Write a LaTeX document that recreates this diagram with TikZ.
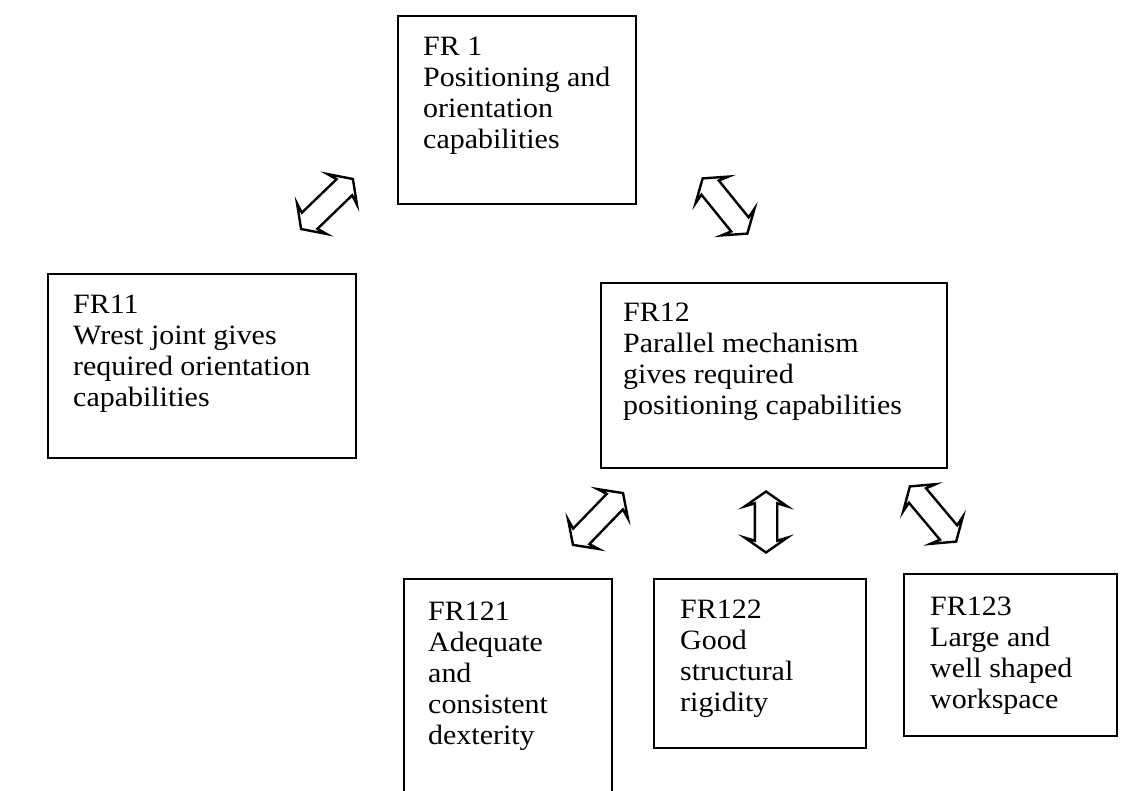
\documentclass[tikz,border=0pt]{standalone}
\usepackage{fontspec}
\setmainfont{Liberation Serif}[FakeStretch=1.07]
\usetikzlibrary{shapes.arrows, positioning}

\begin{document}
\begin{tikzpicture}[
        x=1pt,
        y=1pt,
        block/.style={
            rectangle,
            draw,
            line width=2pt,
            anchor=north west,
            inner sep=0pt
        },
        txt/.style={
            align=left,
            inner sep=0pt,
            font=\fontsize{28}{31}\selectfont
        },
        dbl/.style={
            double arrow,
            draw,
            line width=2.4pt,
            inner xsep=0pt,
            inner ysep=10pt,
            minimum width=40pt,
            double arrow head extend=10pt,
            double arrow tip angle=110,
            double arrow head indent=3pt,
            minimum height=#1
        }
    ]
        \useasboundingbox (0,0) rectangle (1145,-790);

        % Boxes
        \node [block, minimum width=238pt, minimum height=188pt] (fr1) at (397,-15) {};
        \node [block, minimum width=308pt, minimum height=184pt] (fr11) at (47,-273) {};
        \node [block, minimum width=346pt, minimum height=185pt] (fr12) at (600,-282) {};
        \node [block, minimum width=208pt, minimum height=240pt] (fr121) at (403,-578) {};
        \node [block, minimum width=212pt, minimum height=169pt] (fr122) at (653,-578) {};
        \node [block, minimum width=213pt, minimum height=162pt] (fr123) at (903,-573) {};

        % Texts
        \node [txt, below right=22pt and 26pt of fr1.north west] (t1) {FR 1\\Positioning and\\orientation\\capabilities};
        \node [txt, below right=22pt and 26pt of fr11.north west] (t11) {FR11\\Wrest joint gives\\required orientation\\capabilities};
        \node [txt, below right=21pt and 23pt of fr12.north west] (t12) {FR12\\Parallel mechanism\\gives required\\positioning capabilities};
        \node [txt, below right=24pt and 25pt of fr121.north west] (t121) {FR121\\Adequate\\and\\consistent\\dexterity};
        \node [txt, below right=22pt and 27pt of fr122.north west] (t122) {FR122\\Good\\structural\\rigidity};
        \node [txt, below right=24pt and 27pt of fr123.north west] (t123) {FR123\\Large and\\well shaped\\workspace};

        % Arrows
        \node [dbl=72pt, rotate=44] (link1) at (327,-204) {};
        \node [dbl=71pt, rotate=-51] (link2) at (725,-206) {};
        \node [dbl=72pt, rotate=46] (link3) at (598,-519) {};
        \node [dbl=61pt, rotate=90] (link4) at (766,-522) {};
        \node [dbl=72pt, rotate=-50] (link5) at (933,-514) {};

    \end{tikzpicture}
\end{document}
